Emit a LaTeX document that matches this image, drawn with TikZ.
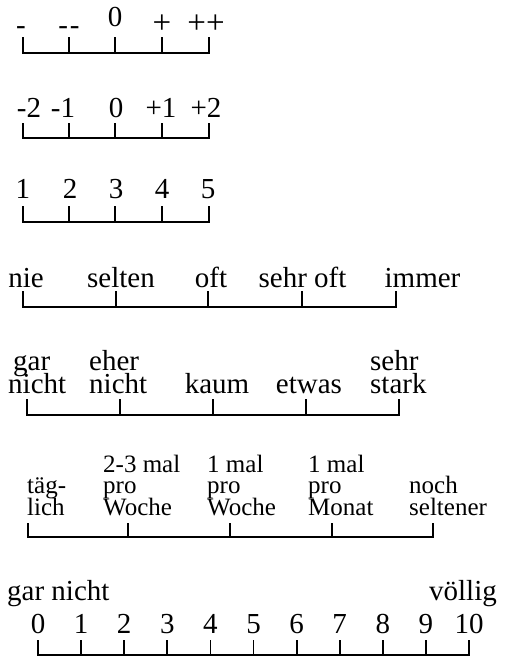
\documentclass[tikz,border=0pt]{standalone}
\usepackage{fontspec}
\setmainfont{Liberation Serif}
\newcommand{\bigtxt}{\fontsize{29}{23}\selectfont\lineskiplimit=-100pt\lineskip=0pt}
\newcommand{\plustxt}{\fontsize{33}{33}\selectfont}
\newcommand{\smalltxt}{\fontsize{25}{21.5}\selectfont\lineskiplimit=-100pt\lineskip=0pt}
\tikzset{
  lab/.style={anchor=base, inner sep=0pt, font=\bigtxt},
  plab/.style={anchor=base, inner sep=0pt, font=\plustxt},
  labw/.style={anchor=base west, inner sep=0pt, font=\bigtxt, align=left},
  slab/.style={anchor=base west, inner sep=0pt, font=\smalltxt, align=left},
  scl/.style={line width=1.8pt, line join=miter},
}
% \drawscale{top}{line}{x1}{xn}{inner xs}
\newcommand{\drawscale}[5]{%
  \draw[scl] (#3,#1) -- (#3,#2) -- (#4,#2) -- (#4,#1);
  \foreach \xx in {#5} { \draw[scl] (\xx,#1) -- (\xx,#2); }
}
\begin{document}
\begin{tikzpicture}[x=1pt,y=-1pt]
\useasboundingbox (0,0) rectangle (513,656);
% scale 1
\drawscale{37}{53}{23}{209}{69,115,162}
\node[lab] (a1) at (21,34) {-};
\node[lab] (a2) at (69,34) {{-}\kern2pt{-}};
\node[lab] (a3) at (115,26) {0};
\node[plab] (a4) at (162,33) {+};
\node[plab] (a5) at (206,33) {++};
% scale 2
\drawscale{123}{138}{23}{209}{69,115,162}
\node[lab] (b1) at (29,117) {-2};
\node[lab] (b2) at (63,117) {-1};
\node[lab] (b3) at (116,117) {0};
\node[lab] (b4) at (161,117) {+1};
\node[lab] (b5) at (206,117) {+2};
% scale 3
\drawscale{206}{222}{23}{209}{69,115,162}
\node[lab] (c1) at (23,198) {1};
\node[lab] (c2) at (70,198) {2};
\node[lab] (c3) at (116,198) {3};
\node[lab] (c4) at (162,198) {4};
\node[lab] (c5) at (208,198) {5};
% scale 4
\drawscale{291}{307}{23}{396}{116,208,302}
\node[lab] (d1) at (26,287) {nie};
\node[lab] (d2) at (121,287) {selten};
\node[lab] (d3) at (211,287) {oft};
\node[lab] (d4) at (302.5,287) {sehr oft};
\node[lab] (d5) at (422.5,287) {immer};
% scale 5
\drawscale{399}{415}{27}{399}{120,213,306}
\node[labw] (e1) at (8,393) {\kern5pt gar\\nicht};
\node[labw] (e2) at (89,393) {eher\\nicht};
\node[lab] (e3) at (217,393) {kaum};
\node[lab] (e4) at (309,393) {etwas};
\node[labw] (e5) at (370,393) {sehr\\stark};
% scale 6
\drawscale{523}{537}{28}{433}{128,230,332}
\node[slab] (f1) at (27,515) {täg-\\lich};
\node[slab] (f2) at (103,515) {2-3 mal\\pro\\Woche};
\node[slab] (f3) at (207,515) {1 mal\\pro\\Woche};
\node[slab] (f4) at (308,515) {1 mal\\pro\\Monat};
\node[slab] (f5) at (409,515) {noch\\seltener};
% scale 7
\drawscale{640}{655}{38}{469}{81.1,124.2,167.3,210.4,253.5,296.6,339.7,382.8,425.9}
\node[labw] (g1) at (7,600) {gar nicht};
\node[lab, anchor=base east] (g2) at (497,600) {völlig};
\foreach \i in {0,...,10} {
  \node[lab] (n\i) at ({38+43.1*\i},633) {\i};
}
\end{tikzpicture}
\end{document}
